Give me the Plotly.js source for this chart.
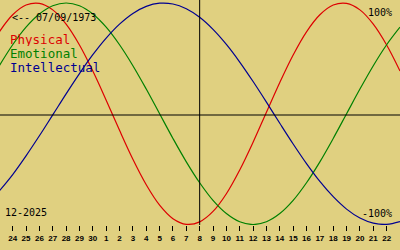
<!DOCTYPE html>
<html>
<head>
<meta charset="utf-8">
<script src="https://cdn.plot.ly/plotly-3.0.1.min.js"></script>
<style>html,body{margin:0;padding:0;background:#e0d080;}#chart{width:400px;height:250px;}</style>
</head>
<body>
<div id="chart"></div>
<script>
// day index 0 = 24 Nov 2025, today (index 14) = 8 Dec 2025
const days = [-1,0,1,2,3,4,5,6,7,8,9,10,11,12,13,14,15,16,17,18,19,20,21,22,23,24,25,26,27,28,29];
const dayLabels = ["24","25","26","27","28","29","30","1","2","3","4","5","6","7","8","9","10","11","12","13","14","15","16","17","18","19","20","21","22"];
const labelDays = [0,1,2,3,4,5,6,7,8,9,10,11,12,13,14,15,16,17,18,19,20,21,22,23,24,25,26,27,28];
const todayIndex = 14;
const physical = [0.740,0.894,0.982,0.997,0.938,0.809,0.621,0.386,0.123,-0.150,-0.411,-0.641,-0.825,-0.947,-0.998,-0.976,-0.882,-0.722,-0.508,-0.257,0.014,0.283,0.531,0.740,0.894,0.982,0.997,0.938,0.809,0.621,0.386];
const emotional = [0.434,0.623,0.782,0.901,0.975,1.000,0.975,0.901,0.782,0.623,0.434,0.223,0.000,-0.223,-0.434,-0.623,-0.782,-0.901,-0.975,-1.000,-0.975,-0.901,-0.782,-0.623,-0.434,-0.223,0.000,0.223,0.434,0.623,0.782];
const intellectual = [-0.697,-0.549,-0.380,-0.199,-0.010,0.180,0.363,0.533,0.683,0.809,0.906,0.970,0.998,0.991,0.948,0.871,0.762,0.626,0.467,0.291,0.105,-0.086,-0.273,-0.450,-0.611,-0.749,-0.861,-0.942,-0.988,-0.999,-0.974];
const birthText = "<-- 07/09/1973";
const monthText = "12-2025";
const seriesNames = ["Physical","Emotional","Intellectual"];
const seriesColors = ["#dd0000","#008000","#000090"];

const bg = "#e0d080";
const mono = "DejaVu Sans Mono, monospace";
const series = [physical, emotional, intellectual];
const traces = series.map((vals, k) => ({
  x: days, y: vals, type: "scatter", mode: "lines",
  line: {color: seriesColors[k], width: 1.2, shape: "spline", smoothing: 1},
  hoverinfo: "skip", showlegend: false
}));

const annotations = [
  {xref:"paper", yref:"paper", x:0.025, y:1-17/225, xanchor:"left", yanchor:"middle", text: birthText.replace("<","&lt;"), showarrow:false, font:{family:mono, size:10, color:"#000"}},
  {xref:"paper", yref:"paper", x:0.985, y:1-12/225, xanchor:"right", yanchor:"middle", text:"100%", showarrow:false, font:{family:mono, size:10, color:"#000"}},
  {xref:"paper", yref:"paper", x:0.985, y:1-213/225, xanchor:"right", yanchor:"middle", text:"-100%", showarrow:false, font:{family:mono, size:10, color:"#000"}},
  {xref:"paper", yref:"paper", x:0.008, y:1-212/225, xanchor:"left", yanchor:"middle", text: monthText, showarrow:false, font:{family:mono, size:10, color:"#000"}}
];
seriesNames.forEach((n, k) => annotations.push({
  xref:"paper", yref:"paper", x:0.022, y:1-(39+14.5*k)/225, xanchor:"left", yanchor:"middle",
  text:n, showarrow:false, height:13, borderpad:0, font:{family:mono, size:12.5, color:seriesColors[k]}
}));

const layout = {
  width: 400, height: 250,
  margin: {l:0, r:0, t:0, b:25, pad:0},
  paper_bgcolor: bg, plot_bgcolor: bg,
  showlegend: false,
  xaxis: {range:[-0.95, 29.0], tickvals: labelDays, ticktext: dayLabels, ticks:"outside", ticklen:5, tickwidth:1, tickcolor:"#000",
          showgrid:false, zeroline:false, showline:false, tickfont:{family:"Liberation Sans, Arial, sans-serif", size:8, color:"#000", weight:"bold"}, fixedrange:true},
  yaxis: {range:[-1.0045, 1.0271], showgrid:false, zeroline:false, showline:false, showticklabels:false, ticks:"", fixedrange:true},
  shapes: [
    {type:"line", xref:"paper", yref:"paper", x0:0, x1:1, y0:1-115/225, y1:1-115/225, line:{color:"#000", width:1}},
    {type:"line", xref:"x", yref:"paper", x0:todayIndex, x1:todayIndex, y0:0, y1:1, line:{color:"#000", width:1}}
  ],
  annotations: annotations
};
Plotly.newPlot("chart", traces, layout, {staticPlot:true, displayModeBar:false});
</script>
</body>
</html>
